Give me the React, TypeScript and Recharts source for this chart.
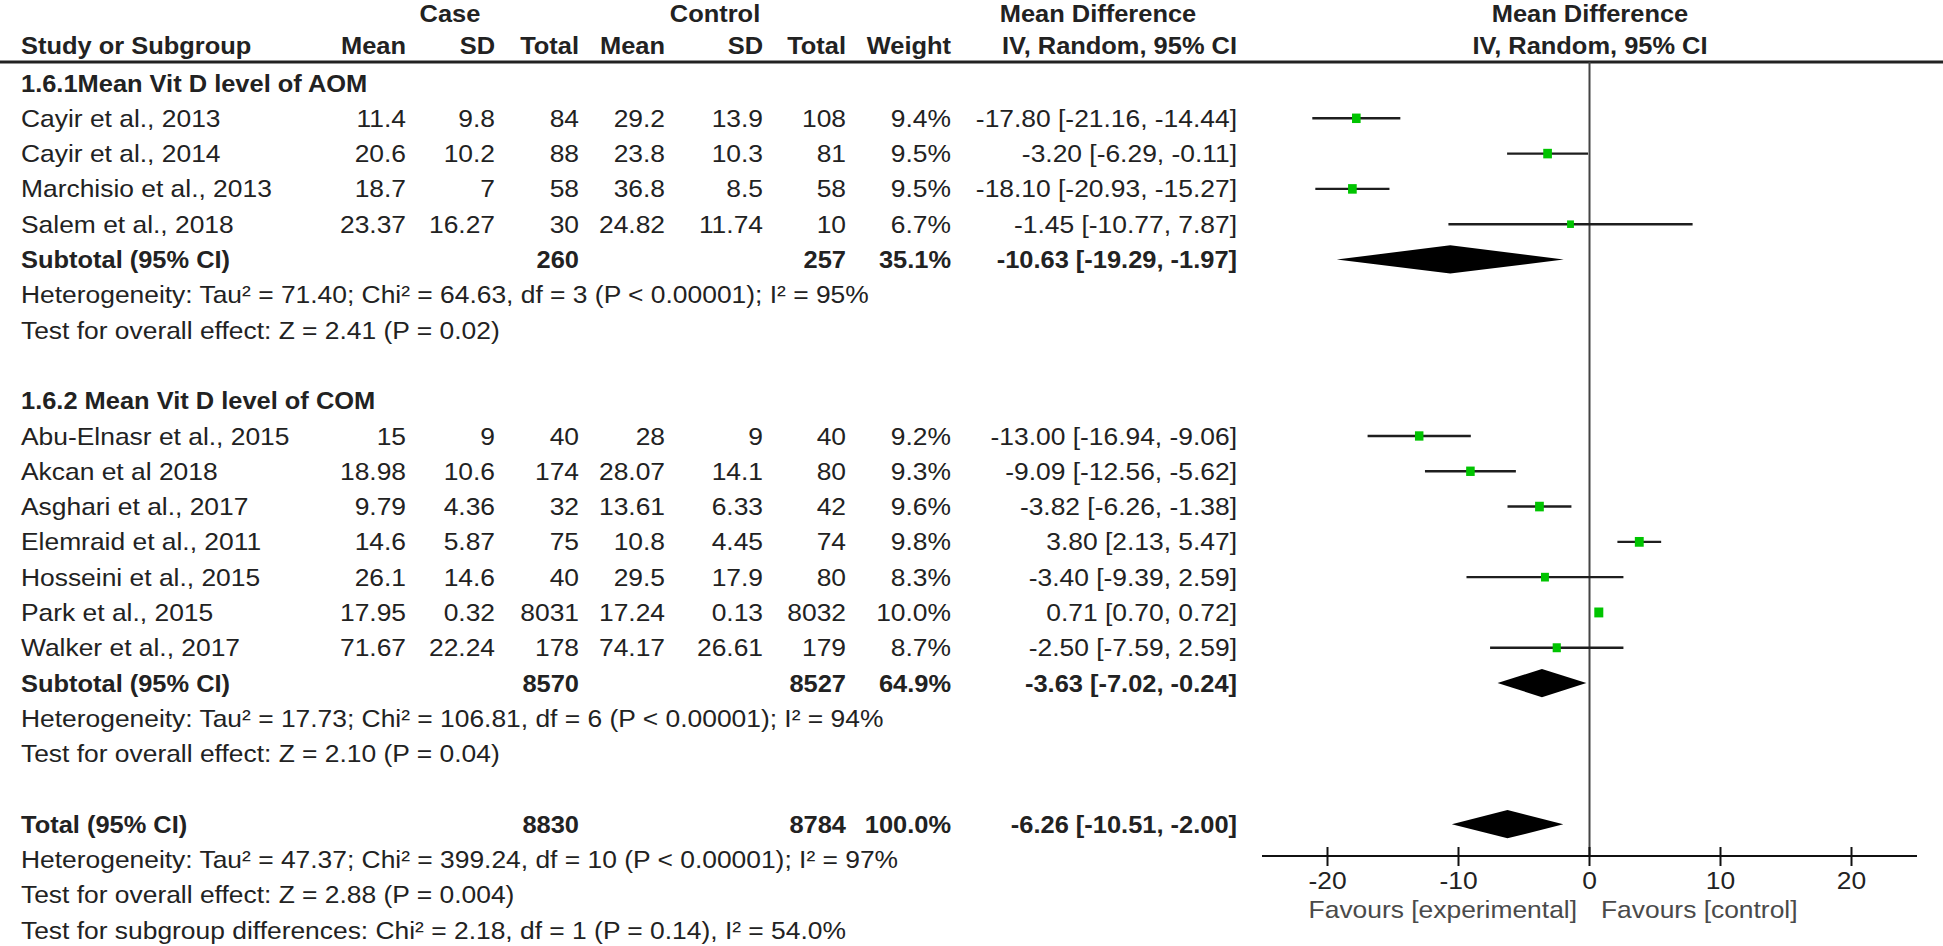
import React from 'react'
import { ComposedChart, Scatter, ErrorBar, Area, XAxis, YAxis, ReferenceLine } from 'recharts'

// studies: subgroup 1.6.1 (AOM) first, then 1.6.2 (COM)
const studyNames = [
  'Cayir et al., 2013', 'Cayir et al., 2014', 'Marchisio et al., 2013', 'Salem et al., 2018',
  'Abu-Elnasr et al., 2015', 'Akcan et al 2018', 'Asghari et al., 2017', 'Elemraid et al., 2011',
  'Hosseini et al., 2015', 'Park et al., 2015', 'Walker et al., 2017',
]
const studyGroup = [0, 0, 0, 0, 1, 1, 1, 1, 1, 1, 1]
const caseMean = [11.4, 20.6, 18.7, 23.37, 15, 18.98, 9.79, 14.6, 26.1, 17.95, 71.67]
const caseSD = [9.8, 10.2, 7, 16.27, 9, 10.6, 4.36, 5.87, 14.6, 0.32, 22.24]
const caseN = [84, 88, 58, 30, 40, 174, 32, 75, 40, 8031, 178]
const ctrlMean = [29.2, 23.8, 36.8, 24.82, 28, 28.07, 13.61, 10.8, 29.5, 17.24, 74.17]
const ctrlSD = [13.9, 10.3, 8.5, 11.74, 9, 14.1, 6.33, 4.45, 17.9, 0.13, 26.61]
const ctrlN = [108, 81, 58, 10, 40, 80, 42, 74, 80, 8032, 179]
const weights = [9.4, 9.5, 9.5, 6.7, 9.2, 9.3, 9.6, 9.8, 8.3, 10.0, 8.7]
const mdEst = [-17.8, -3.2, -18.1, -1.45, -13.0, -9.09, -3.82, 3.8, -3.4, 0.71, -2.5]
const ciLow = [-21.16, -6.29, -20.93, -10.77, -16.94, -12.56, -6.26, 2.13, -9.39, 0.7, -7.59]
const ciHigh = [-14.44, -0.11, -15.27, 7.87, -9.06, -5.62, -1.38, 5.47, 2.59, 0.72, 2.59]

// subgroup summaries
const groupTitles = ['1.6.1Mean Vit D level of AOM', '1.6.2 Mean Vit D level of COM']
const groupCaseN = [260, 8570]
const groupCtrlN = [257, 8527]
const groupWeight = [35.1, 64.9]
const groupMd = [-10.63, -3.63]
const groupLow = [-19.29, -7.02]
const groupHigh = [-1.97, -0.24]
const groupHet = [
  'Heterogeneity: Tau² = 71.40; Chi² = 64.63, df = 3 (P < 0.00001); I² = 95%',
  'Heterogeneity: Tau² = 17.73; Chi² = 106.81, df = 6 (P < 0.00001); I² = 94%',
]
const groupTest = ['Test for overall effect: Z = 2.41 (P = 0.02)', 'Test for overall effect: Z = 2.10 (P = 0.04)']

// overall
const totalCaseN = 8830
const totalCtrlN = 8784
const totalWeight = 100.0
const totalMd = -6.26
const totalLow = -10.51
const totalHigh = -2.0
const totalNotes = [
  'Heterogeneity: Tau² = 47.37; Chi² = 399.24, df = 10 (P < 0.00001); I² = 97%',
  'Test for overall effect: Z = 2.88 (P = 0.004)',
  'Test for subgroup differences: Chi² = 2.18, df = 1 (P = 0.14), I² = 54.0%',
]

const xTicks = [-20, -10, 0, 10, 20]
const favourLabels = ['Favours [experimental]', 'Favours [control]']

// layout
const W = 1943
const H = 946
const FONT = "'Liberation Sans', Arial, sans-serif"
const ROW0 = 83
const ROW_H = 35.3
const COLS = [406, 495, 579, 665, 763, 846, 951, 1237]
const TEXT_X = 21
const DIAMOND_H = 0.4

const rowY = (r: number) => ROW0 + r * ROW_H + 8.5
const ci = (m: number, lo: number, hi: number) => `${m.toFixed(2)} [${lo.toFixed(2)}, ${hi.toFixed(2)}]`
const pct = (w: number) => `${w.toFixed(1)}%`

type Row = { r: number; label: string; cells: string[]; bold?: boolean }

const tableRows: Row[] = []
const studyPoints: Array<{ x: number; row: number; err: [number, number]; w: number }> = []
const diamonds: Array<Array<{ x: number; band: [number, number] }>> = []

const diamond = (r: number, m: number, lo: number, hi: number) => [
  { x: lo, band: [r, r] as [number, number] },
  { x: m, band: [r - DIAMOND_H, r + DIAMOND_H] as [number, number] },
  { x: hi, band: [r, r] as [number, number] },
]

let r = 0
groupTitles.forEach((title, g) => {
  tableRows.push({ r, label: title, cells: [], bold: true })
  r++
  studyNames.forEach((name, i) => {
    if (studyGroup[i] !== g) return
    tableRows.push({
      r,
      label: name,
      cells: [
        String(caseMean[i]), String(caseSD[i]), String(caseN[i]),
        String(ctrlMean[i]), String(ctrlSD[i]), String(ctrlN[i]),
        pct(weights[i]), ci(mdEst[i], ciLow[i], ciHigh[i]),
      ],
    })
    studyPoints.push({ x: mdEst[i], row: r, err: [mdEst[i] - ciLow[i], ciHigh[i] - mdEst[i]], w: weights[i] })
    r++
  })
  tableRows.push({
    r, label: 'Subtotal (95% CI)', bold: true,
    cells: ['', '', String(groupCaseN[g]), '', '', String(groupCtrlN[g]), pct(groupWeight[g]), ci(groupMd[g], groupLow[g], groupHigh[g])],
  })
  diamonds.push(diamond(r, groupMd[g], groupLow[g], groupHigh[g]))
  r++
  tableRows.push({ r, label: groupHet[g], cells: [] })
  r++
  tableRows.push({ r, label: groupTest[g], cells: [] })
  r += 2
})
tableRows.push({
  r, label: 'Total (95% CI)', bold: true,
  cells: ['', '', String(totalCaseN), '', '', String(totalCtrlN), pct(totalWeight), ci(totalMd, totalLow, totalHigh)],
})
diamonds.push(diamond(r, totalMd, totalLow, totalHigh))
const totalRow = r
r++
totalNotes.forEach(n => {
  tableRows.push({ r, label: n, cells: [] })
  r++
})

// text drawn a bit wider than the font's natural width, like the source
function T(props: { x: number; y: number; anchor?: 'start' | 'middle' | 'end'; bold?: boolean; fill?: string; children: React.ReactNode }) {
  const { x, y, anchor = 'start', bold = false, fill = '#222', children } = props
  return (
    <text
      transform={`translate(${x},${y}) scale(${bold ? 1.06 : 1.1},1)`}
      textAnchor={anchor}
      fontFamily={FONT}
      fontSize={24}
      fontWeight={bold ? 700 : 400}
      fill={fill}
    >
      {children}
    </text>
  )
}

const GreenBox = (props: any) => {
  const { cx, cy, payload } = props
  const s = 2.5 + payload.w * 0.65
  return <rect x={cx - s / 2} y={cy - s * 0.55} width={s} height={s * 1.1} fill="#00c400" />
}

const AxisTick = (props: any) => {
  const { x, y, payload } = props
  return (
    <g>
      <line x1={x} x2={x} y1={y - 9} y2={y + 10} stroke="#111" strokeWidth={2} />
      <T x={x} y={y + 33} anchor="middle">{payload.value}</T>
    </g>
  )
}

function Table() {
  const heads = ['Mean', 'SD', 'Total', 'Mean', 'SD', 'Total', 'Weight', 'IV, Random, 95% CI']
  return (
    <svg width={W} height={H} style={{ position: 'absolute', left: 0, top: 0 }}>
      <T x={450} y={22} anchor="middle" bold>Case</T>
      <T x={715} y={22} anchor="middle" bold>Control</T>
      <T x={1098} y={22} anchor="middle" bold>Mean Difference</T>
      <T x={1590} y={22} anchor="middle" bold>Mean Difference</T>
      <T x={TEXT_X} y={54} bold>Study or Subgroup</T>
      {heads.map((h, i) => (
        <T key={i} x={COLS[i]} y={54} anchor="end" bold>{h}</T>
      ))}
      <T x={1590} y={54} anchor="middle" bold>IV, Random, 95% CI</T>
      <line x1={0} x2={W} y1={62} y2={62} stroke="#222" strokeWidth={3} />
      {tableRows.map((row, k) => (
        <g key={k}>
          <T x={TEXT_X} y={rowY(row.r)} bold={row.bold}>{row.label}</T>
          {row.cells.map((c, i) => (
            <T key={i} x={COLS[i]} y={rowY(row.r)} anchor="end" bold={row.bold}>{c}</T>
          ))}
        </g>
      ))}
      <T x={1577} y={918} anchor="end" fill="#4a4a4a">{favourLabels[0]}</T>
      <T x={1601} y={918} fill="#4a4a4a">{favourLabels[1]}</T>
    </svg>
  )
}

export default function App() {
  return (
    <div style={{ position: 'absolute', left: 0, top: 0, width: W, height: H, background: '#fff' }}>
      <Table />
      <div style={{ position: 'absolute', left: 0, top: 0 }}>
        <ComposedChart width={W} height={H} margin={{ top: 62, right: 26, bottom: 30, left: 1262 }}>
          <XAxis
            type="number"
            dataKey="x"
            domain={[-25, 25]}
            ticks={xTicks}
            allowDataOverflow
            height={60}
            tickSize={0}
            tickMargin={0}
            tickLine={false}
            axisLine={{ stroke: '#111', strokeWidth: 2 }}
            tick={<AxisTick />}
          />
          <YAxis type="number" dataKey="row" domain={[-0.595, totalRow + 0.9]} reversed hide allowDataOverflow />
          <ReferenceLine x={0} stroke="#444" strokeWidth={2} />
          {diamonds.map((d, i) => (
            <Area
              key={i}
              data={d}
              dataKey="band"
              type="linear"
              stroke="none"
              fill="#000"
              fillOpacity={1}
              dot={false}
              activeDot={false}
              isAnimationActive={false}
            />
          ))}
          <Scatter data={studyPoints} shape={<GreenBox />} isAnimationActive={false}>
            <ErrorBar dataKey="err" direction="x" width={0} stroke="#1e1e1e" strokeWidth={2.4} />
          </Scatter>
        </ComposedChart>
      </div>
    </div>
  )
}
